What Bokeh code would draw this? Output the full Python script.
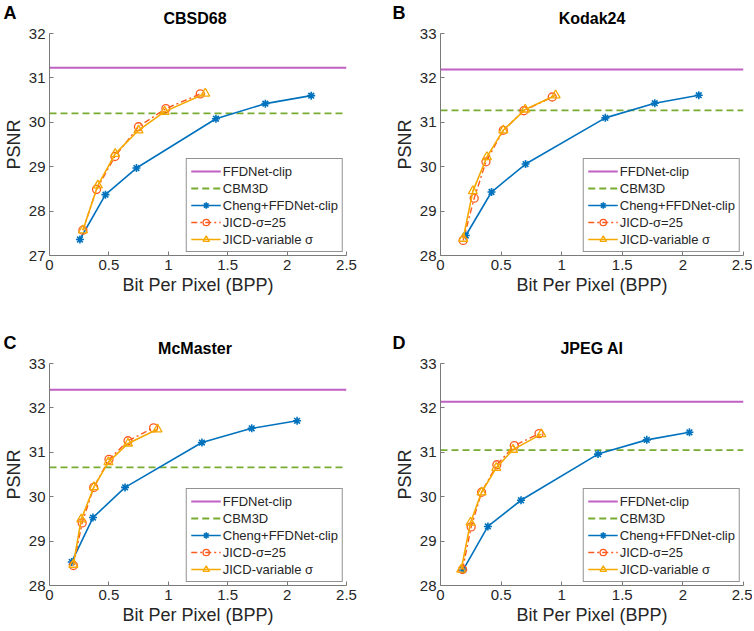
from bokeh.plotting import figure
from bokeh.models import Range1d, FixedTicker, NumeralTickFormatter
from bokeh.core.properties import value
from bokeh.layouts import column, row
from bokeh.embed import file_html
from bokeh.resources import INLINE

FONT = "Liberation Sans"

# shared x axis
BPP_LIMITS = [0, 2.5]
BPP_TICKS = [0, 0.5, 1, 1.5, 2, 2.5]

SERIES = ["FFDNet-clip", "CBM3D", "Cheng+FFDNet-clip", "JICD-σ=25", "JICD-variable σ"]

# ---- A: CBSD68
a_title = "CBSD68"
a_yticks = [27, 28, 29, 30, 31, 32]
a_ffdnet = 31.23
a_cbm3d = 30.20
a_cheng_x = [0.256, 0.471, 0.732, 1.401, 1.817, 2.203]
a_cheng_y = [27.36, 28.37, 28.97, 30.08, 30.42, 30.60]
a_j25_x = [0.281, 0.396, 0.551, 0.749, 0.980, 1.269]
a_j25_y = [27.57, 28.49, 29.23, 29.90, 30.31, 30.64]
a_jv_x = [0.281, 0.407, 0.553, 0.749, 0.969, 1.311]
a_jv_y = [27.57, 28.58, 29.29, 29.82, 30.24, 30.65]

# ---- B: Kodak24
b_title = "Kodak24"
b_yticks = [28, 29, 30, 31, 32, 33]
b_ffdnet = 32.19
b_cbm3d = 31.27
b_cheng_x = [0.209, 0.421, 0.702, 1.360, 1.768, 2.131]
b_cheng_y = [28.45, 29.43, 30.06, 31.10, 31.43, 31.61]
b_j25_x = [0.187, 0.278, 0.375, 0.518, 0.688, 0.922]
b_j25_y = [28.34, 29.29, 30.11, 30.82, 31.26, 31.57]
b_jv_x = [0.187, 0.267, 0.383, 0.518, 0.699, 0.950]
b_jv_y = [28.38, 29.45, 30.22, 30.82, 31.29, 31.61]

# ---- C: McMaster
c_title = "McMaster"
c_yticks = [28, 29, 30, 31, 32, 33]
c_ffdnet = 32.41
c_cbm3d = 30.66
c_cheng_x = [0.187, 0.366, 0.636, 1.283, 1.702, 2.084]
c_cheng_y = [28.53, 29.53, 30.21, 31.22, 31.54, 31.71]
c_j25_x = [0.201, 0.275, 0.372, 0.501, 0.661, 0.876]
c_j25_y = [28.45, 29.41, 30.21, 30.84, 31.26, 31.55]
c_jv_x = [0.201, 0.267, 0.374, 0.496, 0.661, 0.909]
c_jv_y = [28.47, 29.49, 30.22, 30.78, 31.20, 31.52]

# ---- D: JPEG AI
d_title = "JPEG AI"
d_yticks = [28, 29, 30, 31, 32, 33]
d_ffdnet = 32.14
d_cbm3d = 31.05
d_cheng_x = [0.187, 0.391, 0.664, 1.300, 1.702, 2.054]
d_cheng_y = [28.35, 29.33, 29.92, 30.96, 31.28, 31.45]
d_j25_x = [0.182, 0.253, 0.339, 0.465, 0.609, 0.813]
d_j25_y = [28.36, 29.32, 30.10, 30.72, 31.15, 31.42]
d_jv_x = [0.171, 0.248, 0.339, 0.460, 0.598, 0.832]
d_jv_y = [28.36, 29.42, 30.10, 30.65, 31.06, 31.41]

C_FFD = "#C060C4"
C_CBM = "#77AC30"
C_CHENG = "#0072BD"
C_J25 = "#FF5A1E"
C_JV = "#F5A800"
AXIS_C = "#7a7a7a"
TEXT_C = "#262626"

TOTAL_W = 752
LEFT_W, RIGHT_W = 390, 362
FRAME_W = 303
FRAME_H = 222
HEAD_H = 26


def header(letters, titles, letter_base, title_base):
    """Strip above a row of panels holding the panel letters and the titles."""
    h = figure(width=TOTAL_W, height=HEAD_H, x_range=Range1d(0, TOTAL_W),
               y_range=Range1d(HEAD_H, 0), output_backend="svg", toolbar_location=None,
               x_axis_type=None, y_axis_type=None, min_border=0)
    h.outline_line_color = None
    h.text(x=[3, LEFT_W + 2], y=[letter_base, letter_base], text=letters,
           text_font=value(FONT), text_font_size="18px", text_font_style="bold",
           text_color="black", text_align="left", text_baseline="alphabetic")
    h.text(x=[43 + FRAME_W / 2, LEFT_W + 50 + FRAME_W / 2], y=[title_base, title_base],
           text=titles, text_font=value(FONT), text_font_size="16px",
           text_font_style="bold", text_color="black", text_align="center",
           text_baseline="alphabetic")
    return h


def panel(yticks, ffd, cbm, chx, chy, j25x, j25y, jvx, jvy,
          width, height, left, top):
    p = figure(width=width, height=height,
               x_range=Range1d(BPP_LIMITS[0], BPP_LIMITS[1]),
               y_range=Range1d(yticks[0], yticks[-1]),
               output_backend="svg", toolbar_location=None,
               min_border_left=left, min_border_right=width - left - FRAME_W,
               min_border_top=top, min_border_bottom=height - top - FRAME_H)
    p.outline_line_color = None
    p.xgrid.visible = False
    p.ygrid.visible = False

    p.line(BPP_LIMITS, [ffd, ffd], color=C_FFD, line_width=2, legend_label=SERIES[0])
    p.line(BPP_LIMITS, [cbm, cbm], color=C_CBM, line_width=1.8, line_dash="7 4",
           legend_label=SERIES[1])
    p.line(chx, chy, color=C_CHENG, line_width=1.6, legend_label=SERIES[2])
    p.scatter(chx, chy, marker="asterisk", size=8, line_color=C_CHENG, line_width=1.6,
              legend_label=SERIES[2])
    p.line(j25x, j25y, color=C_J25, line_width=1.4, line_dash="6 3 2 3",
           legend_label=SERIES[3])
    p.scatter(j25x, j25y, marker="circle", size=8, line_color=C_J25, fill_color=None,
              line_width=1.3, legend_label=SERIES[3])
    p.line(jvx, jvy, color=C_JV, line_width=1.6, legend_label=SERIES[4])
    p.scatter(jvx, jvy, marker="triangle", size=9, line_color=C_JV, fill_color=None,
              line_width=1.3, legend_label=SERIES[4])

    for ax in (p.xaxis, p.yaxis):
        ax.axis_line_color = AXIS_C
        ax.major_tick_line_color = AXIS_C
        ax.major_tick_in = 4
        ax.major_tick_out = 0
        ax.minor_tick_line_color = None
        ax.major_label_text_font = FONT
        ax.major_label_text_font_size = "15px"
        ax.major_label_text_color = TEXT_C
        ax.major_label_standoff = 4
        ax.axis_label_text_font = FONT
        ax.axis_label_text_font_size = "18px"
        ax.axis_label_text_font_style = "normal"
        ax.axis_label_text_color = TEXT_C
        ax.axis_label_standoff = 2
    p.xaxis.ticker = FixedTicker(ticks=BPP_TICKS)
    p.xaxis.formatter = NumeralTickFormatter(format="0.[0]")
    p.yaxis.ticker = FixedTicker(ticks=yticks)
    p.xaxis.axis_label = "Bit Per Pixel (BPP)"
    p.yaxis.axis_label = "PSNR"

    lg = p.legend[0]
    lg.location = "bottom_right"
    lg.margin = 3
    lg.border_line_color = TEXT_C
    lg.border_line_width = 1
    lg.background_fill_alpha = 1
    lg.label_text_font = FONT
    lg.label_text_font_size = "13px"
    lg.label_text_color = TEXT_C
    lg.glyph_width = 30
    lg.glyph_height = 16
    lg.label_height = 16
    lg.label_standoff = 2
    lg.spacing = 1
    lg.padding = 4
    return p


h1 = header(["A", "B"], [a_title, b_title], 12, 18)
pA = panel(a_yticks, a_ffdnet, a_cbm3d, a_cheng_x, a_cheng_y,
           a_j25_x, a_j25_y, a_jv_x, a_jv_y, LEFT_W, 304, 43, 7)
pB = panel(b_yticks, b_ffdnet, b_cbm3d, b_cheng_x, b_cheng_y,
           b_j25_x, b_j25_y, b_jv_x, b_jv_y, RIGHT_W, 304, 50, 7)
h2 = header(["C", "D"], [c_title, d_title], 12, 18)
pC = panel(c_yticks, c_ffdnet, c_cbm3d, c_cheng_x, c_cheng_y,
           c_j25_x, c_j25_y, c_jv_x, c_jv_y, LEFT_W, 274, 43, 7)
pD = panel(d_yticks, d_ffdnet, d_cbm3d, d_cheng_x, d_cheng_y,
           d_j25_x, d_j25_y, d_jv_x, d_jv_y, RIGHT_W, 274, 50, 7)

layout = column(h1, row(pA, pB), h2, row(pC, pD))
open("out.html", "w").write(file_html(layout, INLINE))
